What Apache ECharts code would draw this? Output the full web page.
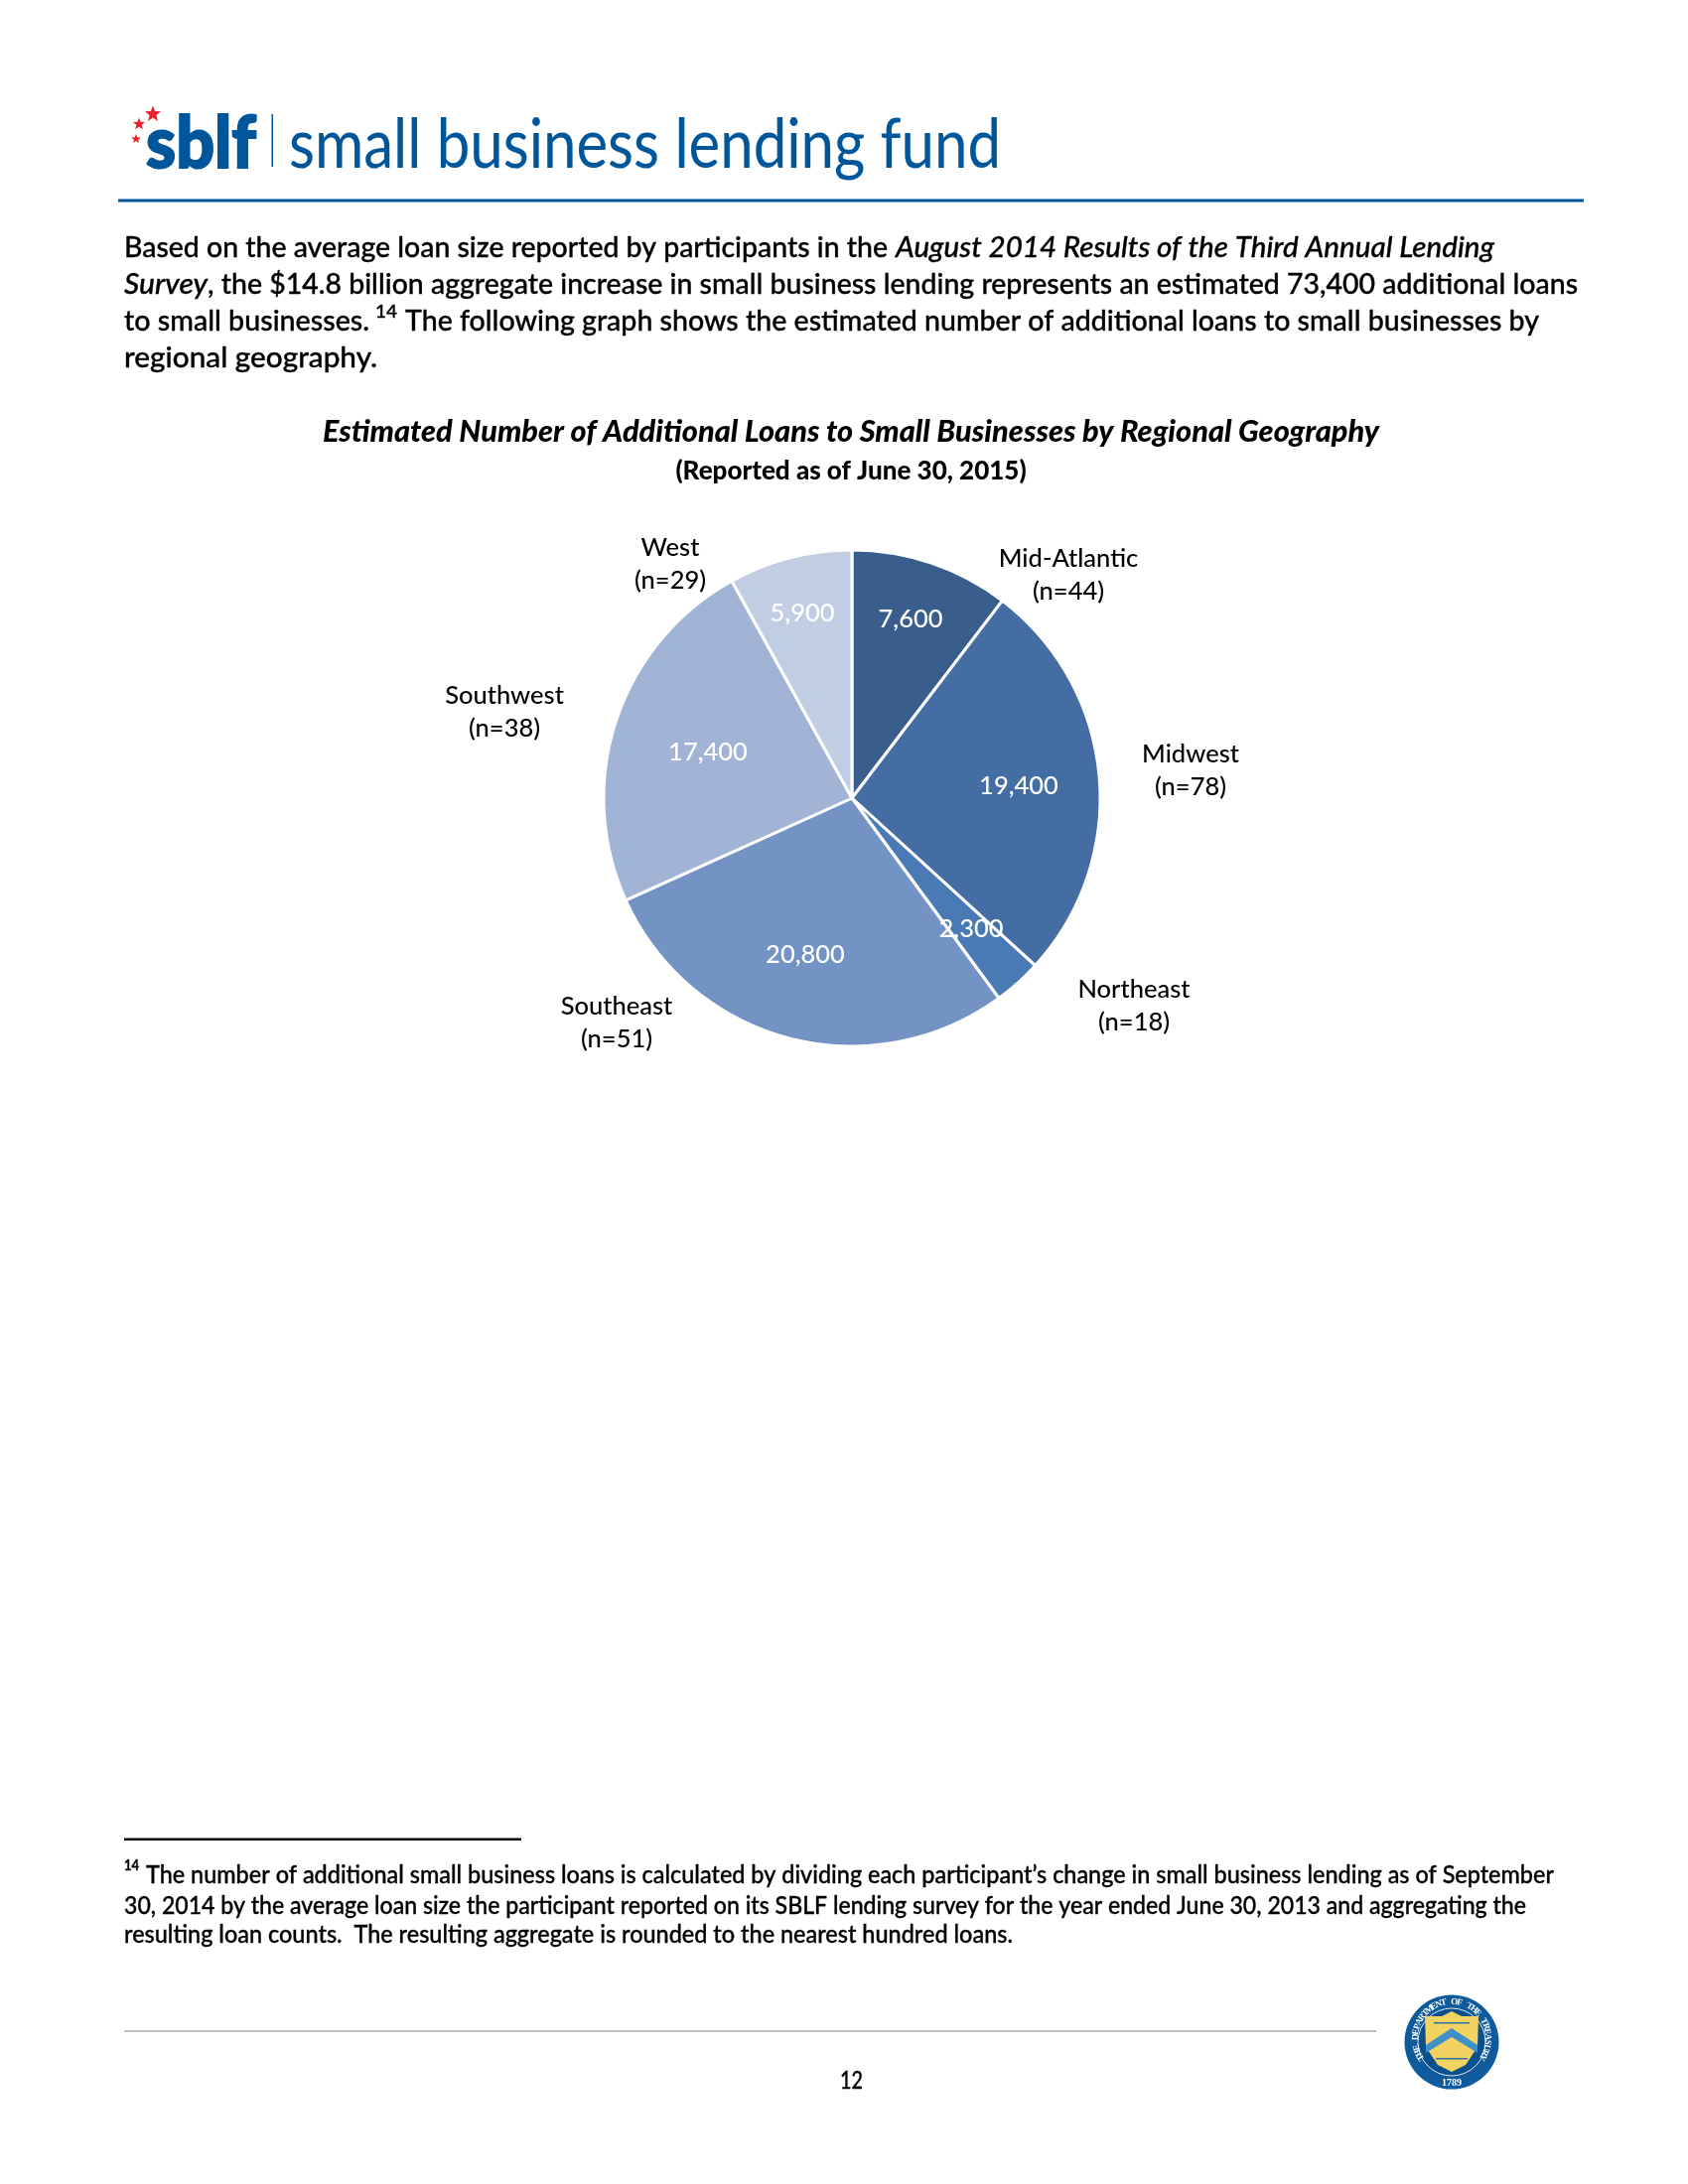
<!DOCTYPE html>
<html><head><meta charset="utf-8">
<style>html,body{margin:0;padding:0;background:#fff}#c{width:1700px;height:2200px}</style>
<script src="https://cdn.jsdelivr.net/npm/echarts@6/dist/echarts.min.js"></script>
</head><body><div id="c"></div>
<script>
const regions = ['Mid-Atlantic','Midwest','Northeast','Southeast','Southwest','West'];
const participants = [44,78,18,51,38,29];
const loans = [7600,19400,2300,20800,17400,5900];
const sliceColors = ['#3A5E8C','#446EA3','#4A7AB5','#7393C5','#A2B4D6','#C1CDE3'];
const nameLabelPos = [[1076,579],[1199,776],[1142,1013],[621,1030],[508,717],[675,568]];
const valueLabelPos = [[917,624],[1026,792],[978,936],[811,962],[713,758],[808,618]];
const chartTitle = 'Estimated Number of Additional Loans to Small Businesses by Regional Geography';
const chartSubtitle = '(Reported as of June 30, 2015)';

const BLUE = '#00569B', FF = 'Lato, "Noto Sans", sans-serif';
const mctx = document.createElement('canvas').getContext('2d');
const g = [];
function line(runs, x, y, targetW, size, weight, bold) {
  const fonts = runs.map(r => `${r.i?'italic ':''}${r.w||weight||500} ${r.s||size}px ${FF}`);
  let tot = 0; const ws = runs.map((r,i)=>{mctx.font=fonts[i];const w=mctx.measureText(r.t).width+(r.gap||0);tot+=w;return w;});
  const k = targetW/tot; let cx = x;
  runs.forEach((r,i)=>{
    const s=r.s||size;
    g.push({type:'text',x:cx,y:y-0.81*s,scaleX:k,originX:0,originY:0,
      style:{text:r.t,x:0,y:0,font:fonts[i],fill:r.c||'#000',stroke:r.c||'#000',lineWidth:bold||0.35,textBaseline:'middle',textAlign:'left'}});
    cx += ws[i]*k;
  });
}
function rect(x,y,w,h,fill){g.push({type:'rect',shape:{x,y,width:w,height:h},style:{fill}});}
function star(cx,cy,r,fill){const p=[];for(let i=0;i<10;i++){const a=-Math.PI/2+i*Math.PI/5,q=i%2?r*0.42:r;p.push([cx+q*Math.cos(a),cy+q*Math.sin(a)]);}
  g.push({type:'polygon',shape:{points:p},style:{fill}});}

// masthead
star(154,115,8.5,'#E8212A');star(140,125,6.5,'#E8212A');star(137,140,5,'#E8212A');
line([{t:'sblf',c:BLUE}],147,168,111,73,900,2);
rect(273.5,115,1.5,53,BLUE);
line([{t:'small business lending fund',c:BLUE}],291,168,717,69,400,0.1);
rect(119,200.5,1476,3,BLUE);

// paragraph
const P=29;
line([{t:'Based on the average loan size reported by participants in the'}],125,259,769,P);
line([{t:'August 2014 Results of the Third Annual Lending',i:1}],902,259,603,P);
line([{t:'Survey',i:1}],125,296,84,P);
line([{t:', the $14.8 billion aggregate increase in small business lending represents an estimated 73,400 additional loans'}],209,296,1380,P);
line([{t:'to small businesses.'}],125,333,247,P);
line([{t:'14',s:17}],378,320,22,17);
line([{t:'The following graph shows the estimated number of additional loans to small businesses by'}],408,333,1142,P);
line([{t:'regional geography.'}],125,370,255,P);

// footnote
rect(125,1851.5,400,2.5,'#000');
const F=24;
line([{t:'14',s:15,w:700}],125,1884,15,15);
line([{t:'The number of additional small business loans is calculated by dividing each participant\u2019s change in small business lending as of September'}],147,1897,1418,F);
line([{t:'30, 2014 by the average loan size the participant reported on its SBLF lending survey for the year ended June 30, 2013 and aggregating the'}],125,1928,1412,F);
line([{t:'resulting loan counts.  The resulting aggregate is rounded to the nearest hundred loans.'}],125,1957,895,F);

// footer
rect(125,2045,1261,2,'#BFBFBF');
line([{t:'12'}],846,2104,23,24);

// treasury seal
const SX=1462,SY=2057;
g.push({type:'circle',shape:{cx:SX,cy:SY,r:47.5},style:{fill:'#0F5A9C'}});
g.push({type:'circle',shape:{cx:SX,cy:SY,r:34},style:{fill:'#0B4F8F',stroke:'#DCE6F0',lineWidth:1}});
g.push({type:'polygon',shape:{points:[[SX-27,SY-26],[SX-10,SY-26],[SX,SY-31],[SX+10,SY-26],[SX+27,SY-26],[SX+26,SY+5],[SX+14,SY+23],[SX,SY+30],[SX-14,SY+23],[SX-26,SY+5]]},style:{fill:'#F2D35F'}});
g.push({type:'polygon',shape:{points:[[SX-26,SY+3],[SX,SY-14],[SX+26,SY+3],[SX+26,SY+11],[SX,SY-5],[SX-26,SY+11]]},style:{fill:'#3F8FC8'}});
g.push({type:'rect',shape:{x:SX-18,y:SY-20,width:36,height:1.5},style:{fill:'#2D6EA8'}});
g.push({type:'rect',shape:{x:SX-16,y:SY+16,width:32,height:1.5},style:{fill:'#2D6EA8'}});
const sealText='THE DEPARTMENT OF THE TREASURY';
[...sealText].forEach((ch,i)=>{
  const a=(-122+i*(244/(sealText.length-1)))*Math.PI/180;
  g.push({type:'text',x:SX+41*Math.sin(a),y:SY-41*Math.cos(a)-4,rotation:-a,
    style:{text:ch,x:0,y:0,font:'700 9px "Liberation Serif", serif',fill:'#fff',textAlign:'center',textBaseline:'middle'}});
});
g.push({type:'text',x:SX,y:SY+36,style:{text:'1789',x:0,y:0,font:'700 10px "Liberation Serif", serif',fill:'#fff',textAlign:'center',textBaseline:'middle'}});

const pieData = regions.map((name,i)=>({name,value:loans[i],itemStyle:{color:sliceColors[i]}}));
const labelData = regions.map((name,i)=>({name,value:loans[i]}));
const CENTER=[858,804], R=250;
const chart = echarts.init(document.getElementById('c'),null,{renderer:'canvas',width:1700,height:2200});
chart.setOption({
  backgroundColor:'#fff',animation:false,
  title:[
    {text:chartTitle,top:420,padding:0,left:857,textAlign:'center',textStyle:{fontFamily:FF,fontSize:30.7,fontWeight:900,fontStyle:'italic',color:'#000'}},
    {text:chartSubtitle,top:462,padding:0,left:857,textAlign:'center',textStyle:{fontFamily:FF,fontSize:26,fontWeight:900,color:'#000'}}
  ],
  graphic:{elements:g},
  series:[
    {type:'pie',clockwise:true,startAngle:90,radius:R,center:CENTER,data:pieData,silent:true,
     itemStyle:{borderColor:'#fff',borderWidth:3},
     label:{show:true,position:'inside',formatter:p=>p.value.toLocaleString('en-US'),color:'#fff',fontFamily:FF,fontSize:25.5,fontWeight:500},
     labelLine:{show:false},
     labelLayout:p=>({x:valueLabelPos[p.dataIndex][0],y:valueLabelPos[p.dataIndex][1],align:'center',verticalAlign:'middle'})},
    {type:'pie',clockwise:true,startAngle:90,radius:R,center:CENTER,data:labelData,silent:true,
     itemStyle:{color:'rgba(0,0,0,0)',borderWidth:0},
     label:{show:true,position:'outside',formatter:p=>p.name+'\n(n='+participants[p.dataIndex]+')',color:'#000',fontFamily:FF,fontSize:25.5,fontWeight:500,lineHeight:33,align:'center'},
     labelLine:{show:false},
     labelLayout:p=>({x:nameLabelPos[p.dataIndex][0],y:nameLabelPos[p.dataIndex][1],align:'center',verticalAlign:'middle',hideOverlap:false})}
  ]
});
</script></body></html>
